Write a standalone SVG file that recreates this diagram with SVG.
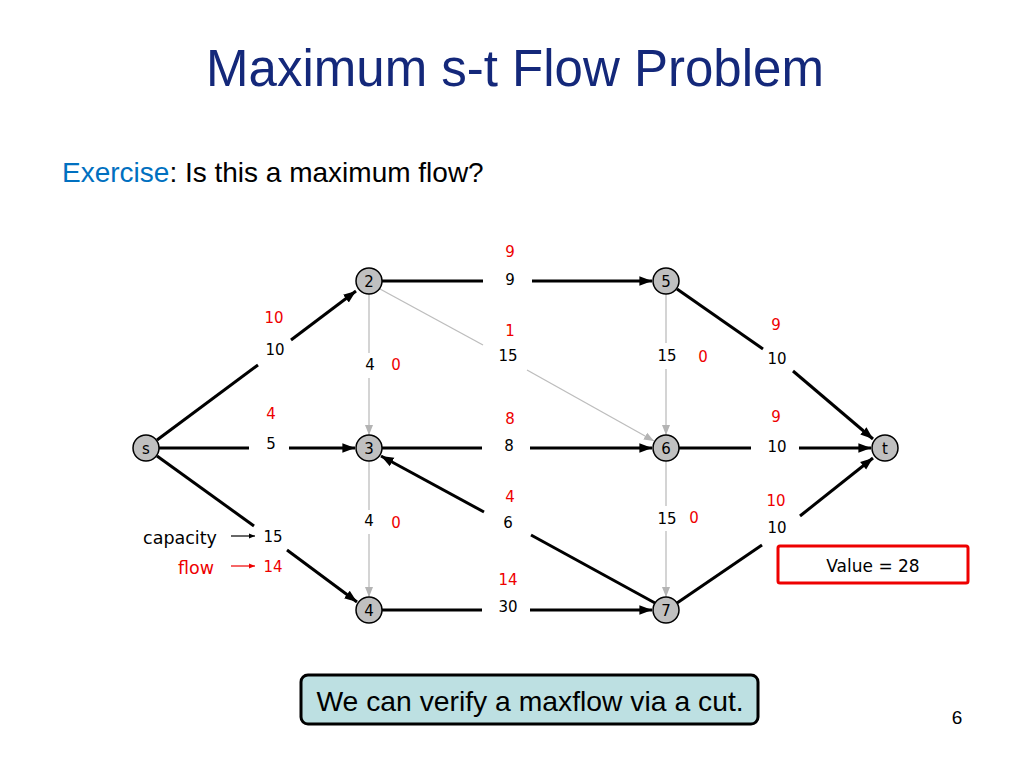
<svg xmlns="http://www.w3.org/2000/svg" width="1024" height="768" viewBox="0 0 1024 768">
<defs>
<marker id="ab" viewBox="0 0 10 10" refX="10" refY="5" markerWidth="4.2" markerHeight="4.2" orient="auto" markerUnits="strokeWidth"><path d="M0,1.2 L10,5 L0,8.8 z" fill="#000"/></marker>
<marker id="ag" viewBox="0 0 10 10" refX="10" refY="5" markerWidth="10" markerHeight="10" orient="auto" markerUnits="userSpaceOnUse"><path d="M0,1 L10,5 L0,9 z" fill="#b4b4b4"/></marker>
<marker id="ak" viewBox="0 0 10 10" refX="10" refY="5" markerWidth="6" markerHeight="6" orient="auto" markerUnits="userSpaceOnUse"><path d="M0,1 L10,5 L0,9 z" fill="#000"/></marker>
<marker id="ar" viewBox="0 0 10 10" refX="10" refY="5" markerWidth="6" markerHeight="6" orient="auto" markerUnits="userSpaceOnUse"><path d="M0,1 L10,5 L0,9 z" fill="#e00"/></marker>
</defs>
<style>
.e{stroke:#000;stroke-width:3;fill:none}
.g{stroke:#bdbdbd;stroke-width:1.3;fill:none}
.n circle{fill:#c0c0c0;stroke:#000;stroke-width:1.5}
.n text,.c,.f{font-family:"DejaVu Sans",sans-serif;font-size:15px;text-anchor:middle;dominant-baseline:central}
.c{fill:#000}
.f{fill:#e00}
</style>
<rect width="1024" height="768" fill="#fff"/>
<text x="515" y="86" font-family="Liberation Sans,Arial,sans-serif" font-size="51" fill="#14287a" text-anchor="middle">Maximum s-t Flow Problem</text>
<text x="62" y="182" font-family="Liberation Sans,Arial,sans-serif" font-size="28"><tspan fill="#0070c0">Exercise</tspan><tspan fill="#000">: Is this a maximum flow?</tspan></text>

<g id="connectors">
<line class="e" x1="157" y1="440" x2="258" y2="365"/>
<line class="e" x1="291" y1="340" x2="356" y2="291" marker-end="url(#ab)"/>
<line class="e" x1="159" y1="448" x2="249" y2="448"/>
<line class="e" x1="289" y1="448" x2="355" y2="448" marker-end="url(#ab)"/>
<line class="e" x1="157" y1="456" x2="254" y2="526"/>
<line class="e" x1="287" y1="550" x2="357" y2="602" marker-end="url(#ab)"/>
<line class="e" x1="382" y1="281" x2="483" y2="281"/>
<line class="e" x1="532" y1="281" x2="652" y2="281" marker-end="url(#ab)"/>
<line class="g" x1="380" y1="289" x2="483" y2="345"/>
<line class="g" x1="527" y1="370" x2="654" y2="441" marker-end="url(#ag)"/>
<line class="g" x1="369" y1="294" x2="369" y2="353"/>
<line class="g" x1="369" y1="378" x2="369" y2="435" marker-end="url(#ag)"/>
<line class="e" x1="382" y1="448" x2="482" y2="448"/>
<line class="e" x1="530" y1="448" x2="652" y2="448" marker-end="url(#ab)"/>
<line class="e" x1="655" y1="603" x2="531" y2="535"/>
<line class="e" x1="484" y1="512" x2="381" y2="456" marker-end="url(#ab)"/>
<line class="g" x1="369" y1="461" x2="369" y2="510"/>
<line class="g" x1="369" y1="534" x2="369" y2="597" marker-end="url(#ag)"/>
<line class="e" x1="382" y1="610" x2="482" y2="610"/>
<line class="e" x1="530" y1="610" x2="652" y2="610" marker-end="url(#ab)"/>
<line class="g" x1="666" y1="294" x2="666" y2="343"/>
<line class="g" x1="666" y1="369" x2="666" y2="435" marker-end="url(#ag)"/>
<line class="e" x1="677" y1="289" x2="763" y2="349"/>
<line class="e" x1="793" y1="371" x2="873" y2="439" marker-end="url(#ab)"/>
<line class="e" x1="679" y1="448" x2="751" y2="448"/>
<line class="e" x1="799" y1="448" x2="871" y2="448" marker-end="url(#ab)"/>
<line class="g" x1="666" y1="461" x2="666" y2="506"/>
<line class="g" x1="666" y1="531" x2="666" y2="597" marker-end="url(#ag)"/>
<line class="e" x1="677" y1="603" x2="762" y2="545"/>
<line class="e" x1="800" y1="516" x2="873" y2="458" marker-end="url(#ab)"/>
<line x1="231" y1="536" x2="255" y2="536" stroke="#000" stroke-width="1.2" marker-end="url(#ak)"/>
<line x1="231" y1="566" x2="255" y2="566" stroke="#e00" stroke-width="1.2" marker-end="url(#ar)"/>
</g>

<g id="node-s" class="n"><circle cx="146" cy="448" r="13"/><text x="146" y="449">s</text></g>
<g id="node-2" class="n"><circle cx="369" cy="281" r="13"/><text x="369" y="282">2</text></g>
<g id="node-3" class="n"><circle cx="369" cy="448" r="13"/><text x="369" y="449">3</text></g>
<g id="node-4" class="n"><circle cx="369" cy="610" r="13"/><text x="369" y="611">4</text></g>
<g id="node-5" class="n"><circle cx="666" cy="281" r="13"/><text x="666" y="282">5</text></g>
<g id="node-6" class="n"><circle cx="666" cy="448" r="13"/><text x="666" y="449">6</text></g>
<g id="node-7" class="n"><circle cx="666" cy="610" r="13"/><text x="666" y="611">7</text></g>
<g id="node-t" class="n"><circle cx="885" cy="448" r="13"/><text x="885" y="449">t</text></g>

<g id="labels">
<text class="f" x="510" y="252">9</text><text class="c" x="510" y="280">9</text>
<text class="f" x="274" y="318">10</text><text class="c" x="275" y="350">10</text>
<text class="f" x="510" y="331">1</text><text class="c" x="508" y="356">15</text>
<text class="c" x="370" y="365">4</text><text class="f" x="396" y="365">0</text>
<text class="c" x="667" y="356">15</text><text class="f" x="703" y="357">0</text>
<text class="f" x="776" y="325">9</text><text class="c" x="777" y="359">10</text>
<text class="f" x="271" y="414">4</text><text class="c" x="271" y="444">5</text>
<text class="f" x="510" y="419">8</text><text class="c" x="509" y="446">8</text>
<text class="f" x="776" y="417">9</text><text class="c" x="777" y="447">10</text>
<text class="f" x="510" y="497">4</text><text class="c" x="508" y="523">6</text>
<text class="c" x="369" y="521">4</text><text class="f" x="396" y="523">0</text>
<text class="c" x="667" y="519">15</text><text class="f" x="694" y="518">0</text>
<text class="f" x="776" y="501">10</text><text class="c" x="777" y="528">10</text>
<text class="c" x="180" y="538" style="font-size:17.5px">capacity</text><text class="c" x="273" y="537">15</text>
<text class="f" x="196" y="568" style="font-size:17.5px">flow</text><text class="f" x="273" y="567">14</text>
<text class="f" x="508" y="580">14</text><text class="c" x="508" y="607">30</text>
</g>

<g id="value-box">
<rect x="778" y="546" width="190" height="37" rx="2" fill="#fff" stroke="#e00" stroke-width="3"/>
<text class="c" x="873" y="566" style="font-size:17px">Value = 28</text>
</g>

<g id="note">
<rect x="301" y="675" width="457" height="49" rx="7" fill="#bde0e2" stroke="#000" stroke-width="3"/>
<text x="530" y="711" font-family="Liberation Sans,Arial,sans-serif" font-size="28.3" fill="#000" text-anchor="middle">We can verify a maxflow via a cut.</text>
</g>
<text x="957" y="724" font-family="Liberation Sans,Arial,sans-serif" font-size="19" fill="#000" text-anchor="middle">6</text>
</svg>
